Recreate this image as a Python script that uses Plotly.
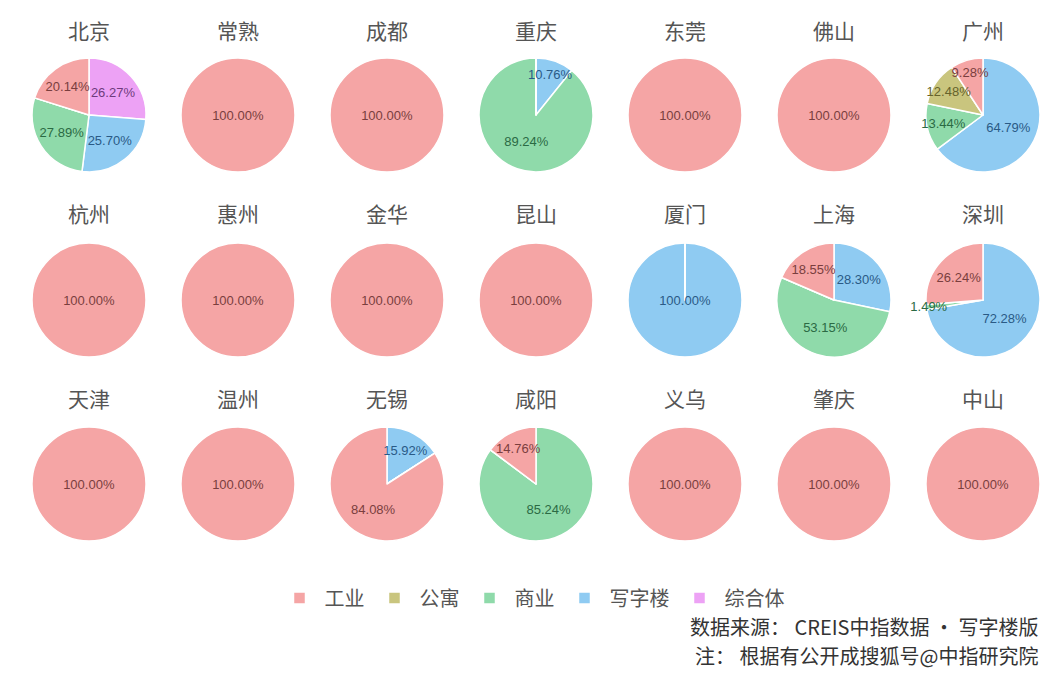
import plotly.graph_objects as go

# the page body has an 8px default margin; size the figure so the page is 1052x677
PAGE_W, PAGE_H, OFF = 1052, 677, 8
W, H = PAGE_W - 2 * OFF, PAGE_H - 2 * OFF


def px(x):
    return (x - OFF) / W


def py(y):
    return 1 - (y - OFF) / H


categories = ["工业", "公寓", "商业", "写字楼", "综合体"]
colors = ["#F5A5A5", "#C9C57E", "#8FDAAA", "#8FCBF2", "#EDA2F5"]
text_colors = ["#7A3E3E", "#66632B", "#2B6A44", "#2A5A86", "#6E3B7C"]

cities = ["北京", "常熟", "成都", "重庆", "东莞", "佛山", "广州",
          "杭州", "惠州", "金华", "昆山", "厦门", "上海", "深圳",
          "天津", "温州", "无锡", "咸阳", "义乌", "肇庆", "中山"]

# shares per city, order: 工业, 公寓, 商业, 写字楼, 综合体
shares = [
    [20.14, 0, 27.89, 25.70, 26.27],
    [100, 0, 0, 0, 0],
    [100, 0, 0, 0, 0],
    [0, 0, 89.24, 10.76, 0],
    [100, 0, 0, 0, 0],
    [100, 0, 0, 0, 0],
    [9.28, 12.48, 13.44, 64.79, 0],
    [100, 0, 0, 0, 0],
    [100, 0, 0, 0, 0],
    [100, 0, 0, 0, 0],
    [100, 0, 0, 0, 0],
    [0, 0, 0, 100, 0],
    [18.55, 0, 53.15, 28.30, 0],
    [26.24, 0, 1.49, 72.28, 0],
    [100, 0, 0, 0, 0],
    [100, 0, 0, 0, 0],
    [84.08, 0, 0, 15.92, 0],
    [14.76, 0, 85.24, 0, 0],
    [100, 0, 0, 0, 0],
    [100, 0, 0, 0, 0],
    [100, 0, 0, 0, 0],
]

# layout geometry (page pixels)
col_x0, col_dx = 89, 149
row_y = [115, 300, 484]
title_y = [30, 213, 398]
radius = 57
ncols = 7

# slices drawn clockwise from 12 o'clock in reversed category order
# == category order running counterclockwise from 12 o'clock
rev = slice(None, None, -1)

fig = go.Figure()
annotations = []
for i, (city, vals) in enumerate(zip(cities, shares)):
    r, c = divmod(i, ncols)
    cx = col_x0 + c * col_dx
    cy = row_y[r]
    dom = dict(x=[px(cx - radius), px(cx + radius)],
               y=[py(cy + radius), py(cy - radius)])
    labels_txt = [f"{v:.2f}%" if v > 0 else "" for v in vals]
    # slices
    fig.add_trace(go.Pie(
        labels=categories[rev],
        values=vals[rev],
        textinfo="none",
        marker=dict(colors=colors[rev], line=dict(color="white", width=1.5)),
        sort=False,
        direction="clockwise",
        rotation=0,
        domain=dom,
        showlegend=(i == 0),
        hoverinfo="label+percent",
    ))
    # labels on top of all slices
    fig.add_trace(go.Pie(
        labels=categories[rev],
        values=vals[rev],
        text=labels_txt[rev],
        textinfo="text",
        textposition="inside",
        insidetextorientation="horizontal",
        insidetextfont=dict(color=text_colors[rev], size=13, family="Liberation Sans, Arial"),
        marker=dict(colors=["rgba(0,0,0,0)"] * 5, line=dict(width=0)),
        sort=False,
        direction="clockwise",
        rotation=0,
        domain=dom,
        showlegend=False,
        hoverinfo="skip",
    ))
    annotations.append(dict(
        x=px(cx), y=py(title_y[r]), xref="paper", yref="paper",
        text=city, showarrow=False, xanchor="center", yanchor="middle",
        font=dict(size=21, color="#555555", family="Noto Sans CJK SC"),
    ))

annotations.append(dict(
    x=px(1040), y=py(626), xref="paper", yref="paper",
    text="数据来源： CREIS中指数据 · 写字楼版", showarrow=False,
    xanchor="right", yanchor="middle",
    font=dict(size=20, color="#333333", family="Noto Sans CJK SC"),
))
annotations.append(dict(
    x=px(1040), y=py(655), xref="paper", yref="paper",
    text="注： 根据有公开成搜狐号@中指研究院", showarrow=False,
    xanchor="right", yanchor="middle",
    font=dict(size=20, color="#333333", family="Noto Sans CJK SC"),
))

fig.update_layout(
    width=W, height=H,
    margin=dict(l=0, r=0, t=0, b=0),
    paper_bgcolor="white",
    plot_bgcolor="white",
    annotations=annotations,
    uniformtext=dict(minsize=13, mode="show"),
    legend=dict(
        orientation="h",
        x=px(532), xanchor="center",
        y=py(598), yanchor="middle",
        font=dict(size=20, color="#555555", family="Noto Sans CJK SC"),
        itemwidth=40,
        traceorder="reversed",
    ),
)

fig.write_html("out.html")
